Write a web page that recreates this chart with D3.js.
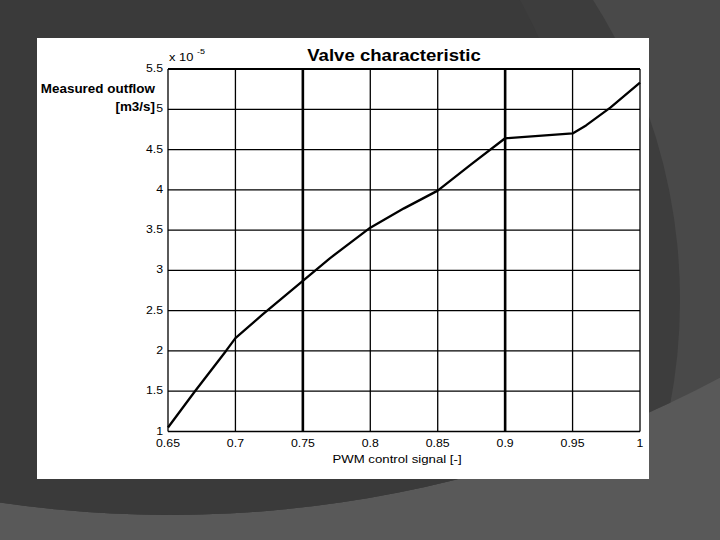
<!DOCTYPE html>
<html>
<head>
<meta charset="utf-8">
<script src="https://cdn.jsdelivr.net/npm/d3@7"></script>
<style>
  html, body { margin: 0; padding: 0; background: #3c3c3c; }
  svg { display: block; }
  text { font-family: "Liberation Sans", Arial, sans-serif; fill: #000; }
</style>
</head>
<body>
<svg id="chart" width="720" height="540"></svg>
<script>
// ---- data ----
const pwmSignal = [0.65, 0.67, 0.693, 0.70, 0.72, 0.75, 0.77, 0.80, 0.825, 0.85, 0.875, 0.90, 0.95, 0.96, 0.978, 1.00];
const outflow   = [1.05, 1.50, 2.00, 2.16, 2.45, 2.87, 3.15, 3.53, 3.77, 3.99, 4.32, 4.64, 4.70, 4.80, 5.02, 5.33];
const xTicks = [0.65, 0.7, 0.75, 0.8, 0.85, 0.9, 0.95, 1];
const xTickLabels = ["0.65", "0.7", "0.75", "0.8", "0.85", "0.9", "0.95", "1"];
const yTicks = [1, 1.5, 2, 2.5, 3, 3.5, 4, 4.5, 5, 5.5];
const yTickLabels = ["1", "1.5", "2", "2.5", "3", "3.5", "4", "4.5", "5", "5.5"];
const titleText = "Valve characteristic";
const xTitle = "PWM control signal [-]";
const yTitleLines = ["Measured outflow", "[m3/s]"];
const exponentBase = "x 10";
const exponentPower = "-5";

// ---- layout ----
const svg = d3.select("#chart");
const W = 720, H = 540;
const plot = { left: 168, right: 640, top: 69, bottom: 431.5 };
const SX = 1.12; // horizontal stretch of the original text

// ---- decorative background ----
const defs = svg.append("defs");
defs.append("clipPath").attr("id", "upper")
  .append("circle").attr("cx", 170).attr("cy", -655).attr("r", 1170);
svg.append("rect").attr("width", W).attr("height", H).attr("fill", "#595959");
svg.append("circle").attr("cx", 170).attr("cy", -655).attr("r", 1170).attr("fill", "#494949");
svg.append("circle").attr("cx", 119).attr("cy", 300).attr("r", 561)
  .attr("fill", "#3d3d3d").attr("clip-path", "url(#upper)");
svg.append("circle").attr("cx", 110).attr("cy", 230).attr("r", 470)
  .attr("fill", "#3a3a3a").attr("clip-path", "url(#upper)");

// ---- white panel ----
svg.append("rect").attr("x", 37).attr("y", 38).attr("width", 612).attr("height", 441).attr("fill", "#ffffff");

// ---- scales ----
const x = d3.scaleLinear().domain([0.65, 1]).range([plot.left, plot.right]);
const y = d3.scaleLinear().domain([1, 5.5]).range([plot.bottom, plot.top]);

function stretchText(sel, px, py) {
  sel.attr("transform", (d, i) => `translate(${px(d, i)},${py(d, i)}) scale(${SX},1)`);
}

// ---- grid ----
const g = svg.append("g");
g.selectAll("line.vg").data(xTicks).join("line")
  .attr("class", "vg")
  .attr("x1", d => x(d)).attr("x2", d => x(d))
  .attr("y1", plot.top).attr("y2", plot.bottom)
  .attr("stroke", "#000")
  .attr("stroke-width", d => (Math.abs(d - 0.75) < 1e-9 || Math.abs(d - 0.9) < 1e-9) ? 2.6 : 1.3);
g.selectAll("line.hg").data(yTicks).join("line")
  .attr("class", "hg")
  .attr("x1", plot.left).attr("x2", plot.right)
  .attr("y1", d => y(d)).attr("y2", d => y(d))
  .attr("stroke", "#000")
  .attr("stroke-width", d => d === 5.5 ? 2 : 1.3);

// ---- line ----
const pts = pwmSignal.map((p, i) => [p, outflow[i]]);
svg.append("path")
  .datum(pts)
  .attr("d", d3.line().x(d => x(d[0])).y(d => y(d[1])))
  .attr("fill", "none")
  .attr("stroke", "#000")
  .attr("stroke-width", 2.3)
  .attr("stroke-linejoin", "round");

// ---- tick labels ----
svg.append("g").selectAll("text").data(xTicks).join("text")
  .text((d, i) => xTickLabels[i])
  .attr("text-anchor", "middle")
  .attr("font-size", 11)
  .call(stretchText, d => x(d), () => 447);

svg.append("g").selectAll("text").data(yTicks).join("text")
  .text((d, i) => yTickLabels[i])
  .attr("text-anchor", "end")
  .attr("font-size", 11)
  .call(stretchText, () => 163, d => y(d) + 3);

// ---- exponent ----
svg.append("text").attr("font-size", 11.5)
  .attr("transform", `translate(169,61) scale(${SX},1)`)
  .text(exponentBase);
svg.append("text").attr("font-size", 8)
  .attr("transform", `translate(197,54) scale(${SX},1)`)
  .text(exponentPower);

// ---- title ----
svg.append("text").text(titleText)
  .attr("text-anchor", "middle")
  .attr("font-size", 16.6)
  .attr("font-weight", "bold")
  .attr("transform", `translate(394,61) scale(${SX},1)`);

// ---- axis titles ----
svg.append("text").text(xTitle)
  .attr("text-anchor", "middle")
  .attr("font-size", 11.8)
  .attr("transform", `translate(397,463) scale(${SX},1)`);

svg.append("g").selectAll("text").data(yTitleLines).join("text")
  .text(d => d)
  .attr("text-anchor", "end")
  .attr("font-size", 12)
  .attr("font-weight", "bold")
  .call(stretchText, () => 155, (d, i) => 93 + i * 18);
</script>
</body>
</html>
